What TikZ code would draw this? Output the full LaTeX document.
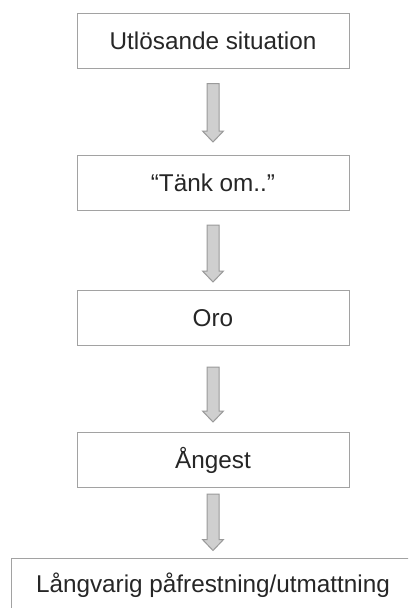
\documentclass[tikz,border=0pt]{standalone}
\usepackage{fontspec}
\setmainfont{Liberation Sans}
\usetikzlibrary{calc}

\tikzset{
  flowbox/.style={draw=boxgray, line width=1pt, fill=white,
    minimum width=272pt, minimum height=55pt, inner sep=0pt,
    font=\fontsize{24.3}{29}\selectfont, text=black!85},
  arrowstyle/.style={draw=arrowline, fill=arrowfill, line width=1pt, line join=miter},
}
\definecolor{boxgray}{HTML}{A2A2A2}
\definecolor{arrowline}{HTML}{9A9A9A}
\definecolor{arrowfill}{HTML}{CFCFCF}

% block arrow between two boxes: #1 upper box, #2 lower box,
% #3 gap below #1, #4 gap above #2 (in pt)
\newcommand\flowarrow[4]{%
  \path ($(#1.south)+(0,#3)$) coordinate (fa-s)
        ($(#2.north)-(0,#4)$) coordinate (fa-e);
  \draw[arrowstyle] let \p1=(fa-s), \p2=(fa-e) in
    (\x1-6pt,\y1) -- (\x1+6pt,\y1) -- (\x1+6pt,\y2+11pt) --
    (\x1+10.5pt,\y2+11pt) -- (\x1,\y2) -- (\x1-10.5pt,\y2+11pt) --
    (\x1-6pt,\y2+11pt) -- cycle;
}

\begin{document}
\begin{tikzpicture}[x=1pt, y=-1pt]
  \useasboundingbox (0,0) rectangle (408,608);
  \clip (0,0) rectangle (408,608);
  \fill[white] (0,0) rectangle (408,608);

  \node[flowbox] (b1) at (213,40.5) {Utlösande situation};
  \node[flowbox] (b2) at (213,183) {“Tänk om..”};
  \node[flowbox] (b3) at (213,318) {Oro};
  \node[flowbox] (b4) at (213,460) {Ångest};
  \node[flowbox, minimum width=404pt] (b5) at (213,585.5) {Långvarig påfrestning/utmattning};

  \flowarrow{b1}{b2}{15}{13}
  \flowarrow{b2}{b3}{14}{8}
  \flowarrow{b3}{b4}{21}{10}
  \flowarrow{b4}{b5}{6}{7}
\end{tikzpicture}
\end{document}
